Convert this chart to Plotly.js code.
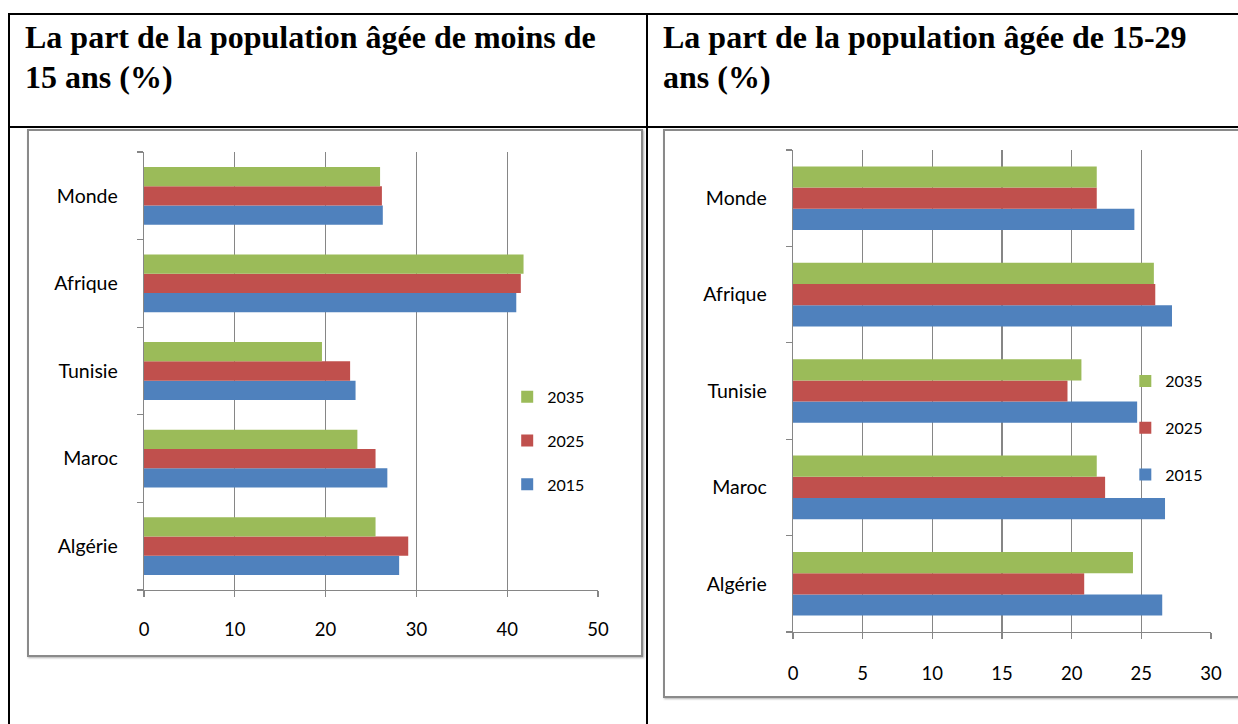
<!DOCTYPE html>
<html><head><meta charset="utf-8">
<script src="https://cdn.plot.ly/plotly-3.0.1.min.js"></script>
<style>
html,body{margin:0;padding:0;background:#fff;overflow:hidden;width:1238px;height:724px;}
.line{position:absolute;background:#000;}
.title{position:absolute;font-family:"Liberation Serif","Times New Roman",serif;font-weight:bold;font-size:32px;line-height:40px;color:#000;white-space:nowrap;}
.box{position:absolute;box-sizing:border-box;border:2px solid #8a8a8a;box-shadow:1px 1px 2px #b0b0b0;background:#fff;}
.plot{position:absolute;}
</style></head><body>
<div class="line" style="left:8px;top:13px;width:1240px;height:2px"></div>
<div class="line" style="left:8px;top:13px;width:2px;height:720px"></div>
<div class="line" style="left:646px;top:13px;width:2px;height:720px"></div>
<div class="line" style="left:8px;top:126px;width:1240px;height:2px"></div>
<div class="title" style="left:25px;top:17px">La part de la population âgée de moins de<br>15 ans (%)</div>
<div class="title" style="left:663px;top:17px">La part de la population âgée de 15-29<br>ans (%)</div>
<div class="box" style="left:27px;top:129px;width:616px;height:528px"></div>
<div class="box" style="left:663px;top:129px;width:620px;height:569px"></div>
<div id="c1" class="plot" style="left:27px;top:129px;width:616px;height:528px"></div>
<div id="c2" class="plot" style="left:663px;top:129px;width:575px;height:569px"></div>
<script>
// categories listed bottom-to-top as drawn
const categories = ["Algérie", "Maroc", "Tunisie", "Afrique", "Monde"];
const years = ["2015", "2025", "2035"];

// Part de la population âgée de moins de 15 ans (%)
const under15_2015 = [28.1, 26.8, 23.3, 41.0, 26.3];
const under15_2025 = [29.1, 25.5, 22.7, 41.5, 26.2];
const under15_2035 = [25.5, 23.5, 19.6, 41.8, 26.0];

// Part de la population âgée de 15-29 ans (%)
const age1529_2015 = [26.5, 26.7, 24.7, 27.2, 24.5];
const age1529_2025 = [20.9, 22.4, 19.7, 26.0, 21.8];
const age1529_2035 = [24.4, 21.8, 20.7, 25.9, 21.8];

const xTicks1 = [0, 10, 20, 30, 40, 50];
const xTicks2 = [0, 5, 10, 15, 20, 25, 30];

const colors = ["#4F81BD", "#C0504D", "#9BBB59"];
const FONT = "Lato, 'Liberation Sans', sans-serif";
const GRID = "#868686";

function traces(series) {
  return series.map((vals, i) => ({
    type: "bar", orientation: "h",
    y: categories, x: vals, name: years[i], legendgroup: years[i],
    legendrank: series.length - i,
    marker: {color: colors[i], line: {width: 0}},
    hoverinfo: "x+y+name"
  }));
}

function layout(ticks, m, leg, xstand) {
  return {
    barmode: "group", bargap: 0.34, bargroupgap: 0,
    paper_bgcolor: "rgba(0,0,0,0)", plot_bgcolor: "rgba(0,0,0,0)",
    margin: m, showlegend: true,
    font: {family: FONT, size: 18, color: "#000"},
    xaxis: {
      range: [ticks[0], ticks[ticks.length - 1]], tickvals: ticks, ticktext: ticks.map(String),
      showgrid: true, gridcolor: GRID, gridwidth: 1.3, zeroline: false,
      showline: true, linecolor: GRID, linewidth: 1.3,
      ticks: "outside", ticklen: 6, tickcolor: GRID, tickwidth: 1.3,
      ticklabelstandoff: xstand, tickfont: {family: FONT, size: 18.5, color: "#000"}, fixedrange: true
    },
    yaxis: {
      type: "category", categoryorder: "array", categoryarray: categories,
      showgrid: false, zeroline: false,
      showline: true, linecolor: GRID, linewidth: 1.3,
      ticks: "outside", tickson: "boundaries", ticklen: 6, tickcolor: GRID, tickwidth: 1.3,
      ticklabelstandoff: 21, tickfont: {family: FONT, size: 19.5, color: "#000"}, fixedrange: true
    },
    legend: {
      x: leg.x, y: leg.y, xanchor: "left", yanchor: "top",
      traceorder: "grouped", tracegroupgap: leg.gap,
      itemwidth: 30, font: {family: FONT, size: 16, color: "#000"},
      bgcolor: "rgba(0,0,0,0)", borderwidth: 0
    }
  };
}

Plotly.newPlot("c1",
  traces([under15_2015, under15_2025, under15_2035]),
  layout(xTicks1, {l: 117, r: 45, t: 23, b: 67, pad: 0}, {x: 0.80, y: 0.48, gap: 20}, 16),
  {staticPlot: true, displayModeBar: false});

Plotly.newPlot("c2",
  traces([age1529_2015, age1529_2025, age1529_2035]),
  layout(xTicks2, {l: 130, r: 27, t: 21, b: 66, pad: 0}, {x: 0.795, y: 0.556, gap: 23}, 18),
  {staticPlot: true, displayModeBar: false});
</script>
</body></html>
